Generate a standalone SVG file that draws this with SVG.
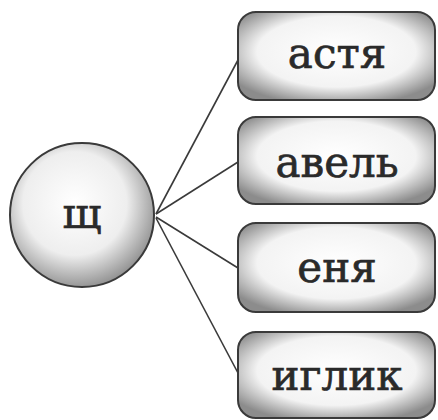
<svg xmlns="http://www.w3.org/2000/svg" width="438" height="420" viewBox="0 0 438 420">
<defs>
<radialGradient id="gBox" cx="50%" cy="45%" r="62%">
<stop offset="0" stop-color="#ffffff"/>
<stop offset="0.65" stop-color="#f3f3f3"/>
<stop offset="1" stop-color="#8c8c8c"/>
</radialGradient>
<radialGradient id="gCircle" cx="45%" cy="42%" r="60%">
<stop offset="0" stop-color="#ffffff"/>
<stop offset="0.6" stop-color="#eeeeee"/>
<stop offset="1" stop-color="#8f8f8f"/>
</radialGradient>
</defs>
<style>
.box{fill:url(#gBox);stroke:#3a3a3a;stroke-width:2}
.circ{fill:url(#gCircle);stroke:#3a3a3a;stroke-width:2}
.lbl{font-family:"DejaVu Serif","Liberation Serif",serif;font-size:42px;fill:#2a2a2a;stroke:#2a2a2a;stroke-width:0.7;text-anchor:middle}
.conn{stroke:#3a3a3a;stroke-width:1.6;fill:none}
</style>
<rect width="438" height="420" fill="#ffffff"/>
<g id="connectors">
<line class="conn" x1="156" y1="214" x2="238" y2="60"/>
<line class="conn" x1="156" y1="214" x2="238" y2="162"/>
<line class="conn" x1="156" y1="217" x2="238" y2="268"/>
<line class="conn" x1="156" y1="218" x2="238" y2="373"/>
</g>
<g id="node-shch">
<circle class="circ" cx="82" cy="215" r="72"/>
<text class="lbl" x="82" y="228">щ</text>
</g>
<g id="node-astya">
<rect class="box" x="238" y="12" width="197" height="88" rx="18"/>
<text class="lbl" x="337" y="68">астя</text>
</g>
<g id="node-avel">
<rect class="box" x="238" y="117" width="197" height="87" rx="18"/>
<text class="lbl" x="337" y="177">авель</text>
</g>
<g id="node-enya">
<rect class="box" x="238" y="223" width="197" height="89" rx="18"/>
<text class="lbl" x="337" y="282">еня</text>
</g>
<g id="node-iglik">
<rect class="box" x="238" y="332" width="197" height="86" rx="18"/>
<text class="lbl" x="337" y="390">иглик</text>
</g>
</svg>
